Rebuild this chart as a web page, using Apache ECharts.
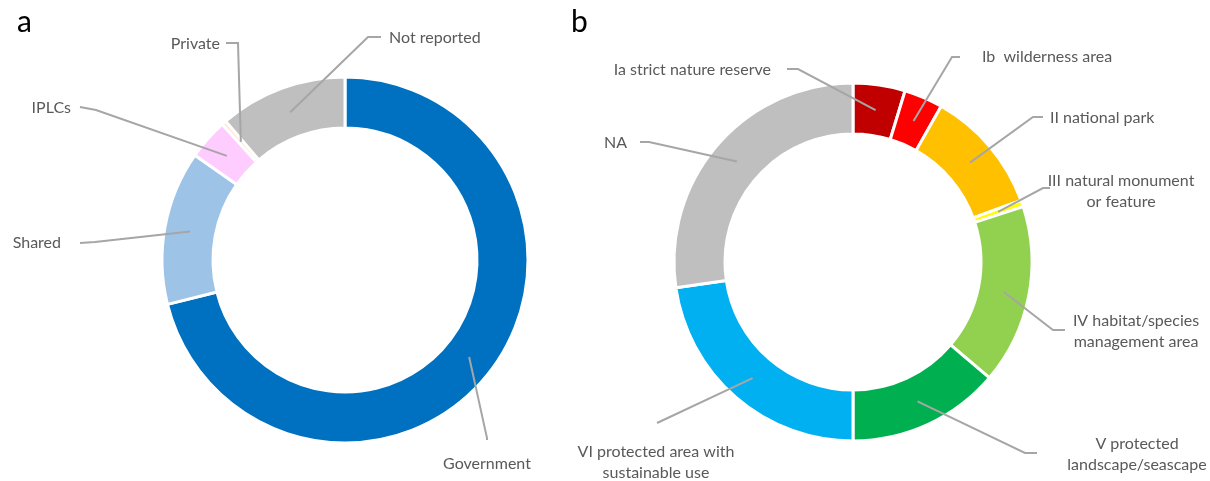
<!DOCTYPE html>
<html>
<head>
<meta charset="utf-8">
<script src="https://cdn.jsdelivr.net/npm/echarts@6/dist/echarts.min.js"></script>
<style>
  html, body { margin: 0; padding: 0; background: #fff; }
  #main { width: 1210px; height: 481px; }
</style>
</head>
<body>
<div id="main"></div>
<script>
// 数据
var ownershipNames = ['Government', 'Shared', 'IPLCs', 'Private', 'Not reported'];
var ownershipValues = [71.1, 13.6, 3.6, 0.4, 11.3];

var iucnNames = ['Ia strict nature reserve', 'Ib  wilderness area', 'II national park',
    'III natural monument or feature', 'IV habitat/species management area',
    'V protected landscape/seascape', 'VI protected area with sustainable use', 'NA'];
var iucnValues = [4.7, 3.5, 11.2, 0.6, 16.2, 13.8, 22.7, 27.3];

// 颜色
var ownershipColors = ['#0070C0', '#9DC3E6', '#FFCCFF', '#FBE5D6', '#BFBFBF'];
var iucnColors = ['#C00000', '#FF0000', '#FFC000', '#FFFF00', '#92D050', '#00B050', '#00B0F0', '#BFBFBF'];

// 标签文字（换行）
var iucnLabels = ['Ia strict nature reserve', 'Ib  wilderness area', 'II national park',
    'III natural monument\nor feature', 'IV habitat/species\nmanagement area',
    'V protected\nlandscape/seascape', 'VI protected area with\nsustainable use', 'NA'];

// 饼图位置
var centers = [[345, 260], [853, 262]];
var radii = [[132, 183], [128, 179]];

// 标签位置: [x, y, align, elbow, end]
var labelPos = [
    [
        [487, 464, 'center', [487, 438], [487, 440]],
        [61, 243, 'right', [95, 242], [80, 243]],
        [71, 108, 'right', [96, 110], [80, 107]],
        [220, 44, 'right', [238, 43], [226, 43]],
        [389, 38, 'left', [368, 37], [381, 37]]
    ],
    [
        [771, 70, 'right', [798, 69], [787, 69]],
        [982, 57, 'left', [952, 57], [960, 57]],
        [1050, 118, 'left', [1033, 117], [1043, 117]],
        [1121, 191, 'center', [1043, 188], [1050, 188]],
        [1136, 331, 'center', [1053, 330], [1065, 330]],
        [1137, 454, 'center', [1025, 453], [1037, 453]],
        [656, 462, 'center', [657, 423], [657, 423]],
        [627, 143, 'right', [649, 142], [640, 142]]
    ]
];

function makeLayout(s) {
    return function (params) {
        var p = labelPos[s][params.dataIndex];
        var c = centers[s];
        var k = (radii[s][0] + radii[s][1]) / 2 / radii[s][1];
        var p0 = params.labelLinePoints[0];
        var start = [c[0] + (p0[0] - c[0]) * k, c[1] + (p0[1] - c[1]) * k];
        return {
            x: p[0],
            y: p[1],
            align: p[2],
            verticalAlign: 'middle',
            labelLinePoints: [start, p[3], p[4]]
        };
    };
}

function buildData(names, values, colors) {
    return names.map(function (n, i) {
        return { name: n, value: values[i], itemStyle: { color: colors[i] } };
    });
}

var labelStyle = {
    show: true,
    position: 'outside',
    color: '#595959',
    fontFamily: 'Lato',
    fontSize: 16,
    lineHeight: 21
};

// 环形块
function ringSeries(s, data) {
    return {
        type: 'pie',
        center: centers[s],
        radius: radii[s],
        startAngle: 90,
        clockwise: true,
        z: 2,
        itemStyle: { borderColor: '#fff', borderWidth: 3 },
        label: { show: false },
        labelLine: { show: false },
        emphasis: { disabled: true },
        data: data
    };
}

// 标签层（透明，在环形块之上）
function labelSeries(s, data, formatter) {
    return {
        type: 'pie',
        center: centers[s],
        radius: radii[s],
        startAngle: 90,
        clockwise: true,
        z: 3,
        silent: true,
        avoidLabelOverlap: false,
        itemStyle: { color: 'rgba(0,0,0,0)', borderWidth: 0 },
        label: Object.assign({}, labelStyle, formatter ? { formatter: formatter } : {}),
        labelLine: { show: true, length: 10, length2: 10, lineStyle: { color: '#A6A6A6', width: 2 } },
        labelLayout: makeLayout(s),
        emphasis: { disabled: true },
        data: data.map(function (d) { return { name: d.name, value: d.value }; })
    };
}

var dataA = buildData(ownershipNames, ownershipValues, ownershipColors);
var dataB = buildData(iucnNames, iucnValues, iucnColors);

var myChart = echarts.init(document.getElementById('main'));
var option = {
    animation: false,
    backgroundColor: '#fff',
    title: [
        { text: 'a', left: 12, top: 2, textStyle: { fontSize: 30, fontWeight: 'normal', color: '#000', fontFamily: 'Lato' } },
        { text: 'b', left: 566, top: 2, textStyle: { fontSize: 30, fontWeight: 'normal', color: '#000', fontFamily: 'Lato' } }
    ],
    series: [
        ringSeries(0, dataA),
        ringSeries(1, dataB),
        labelSeries(0, dataA),
        labelSeries(1, dataB, function (p) { return iucnLabels[p.dataIndex]; })
    ]
};
myChart.setOption(option);
</script>
</body>
</html>
